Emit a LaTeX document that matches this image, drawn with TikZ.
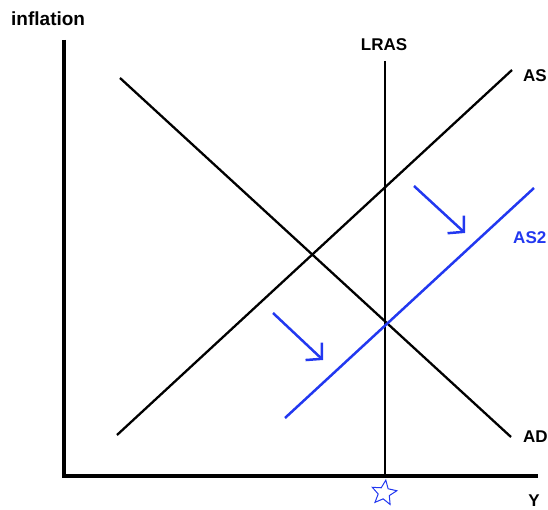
\documentclass[tikz,border=0pt]{standalone}
\usepackage{fontspec}
\setmainfont{Liberation Sans}
\usepackage{tikz}
\usetikzlibrary{positioning,arrows.meta,shapes.geometric}
\definecolor{asblue}{HTML}{2238F0}

\begin{document}
\begin{tikzpicture}[x=1pt, y=-1pt,
  axis/.style={line width=4.5pt},
  curve/.style={line width=2.3pt, black},
  moved/.style={line width=2.5pt, asblue},
  push/.style={moved, -{Straight Barb[length=11pt, width=24pt, line width=2.5pt]}},
  lbl/.style={font=\bfseries\fontsize{17}{20}\selectfont, inner sep=0pt}]
\useasboundingbox (0,0) rectangle (548,510);
% axes
\coordinate (o) at (64,476);
\coordinate (ytop) at (64,40);
\coordinate (xend) at (538,476);
\draw[axis] (ytop) -- (o) -- (xend);
\node[lbl, anchor=west, font=\bfseries\fontsize{19}{22}\selectfont] (infl) at (11,19) {inflation};
\node[lbl] (ylab) at (534,501) {Y};
% long run supply
\coordinate (lrtop) at (385,61);
\coordinate (lrbot) at (385,476);
\draw[curve] (lrtop) -- (lrbot);
\node[lbl] (lras) at (384,45) {LRAS};
% supply and demand
\coordinate (as1) at (117,435); \coordinate (as2) at (512,70);
\coordinate (ad1) at (120,78);  \coordinate (ad2) at (511,437);
\draw[curve] (as1) -- (as2);
\draw[curve] (ad1) -- (ad2);
\node[lbl, anchor=west] (aslab) at (523,76) {AS};
\node[lbl, anchor=west] (adlab) at (523,437) {AD};
% shifted supply
\coordinate (bs1) at (285,418); \coordinate (bs2) at (534,188);
\draw[moved] (bs1) -- (bs2);
\node[lbl, asblue, anchor=east] (as2lab) at (546.5,238) {AS2};
\coordinate (p1) at (414,186); \coordinate (q1) at (465,233);
\coordinate (p2) at (273,313); \coordinate (q2) at (323,360);
\draw[push] (p1) -- (q1);
\draw[push] (p2) -- (q2);
\node[star, star points=5, star point ratio=2.2, draw=asblue, line width=1pt, minimum size=26pt, inner sep=0pt, rotate=-8] (mark) at (384,493) {};
\end{tikzpicture}
\end{document}
